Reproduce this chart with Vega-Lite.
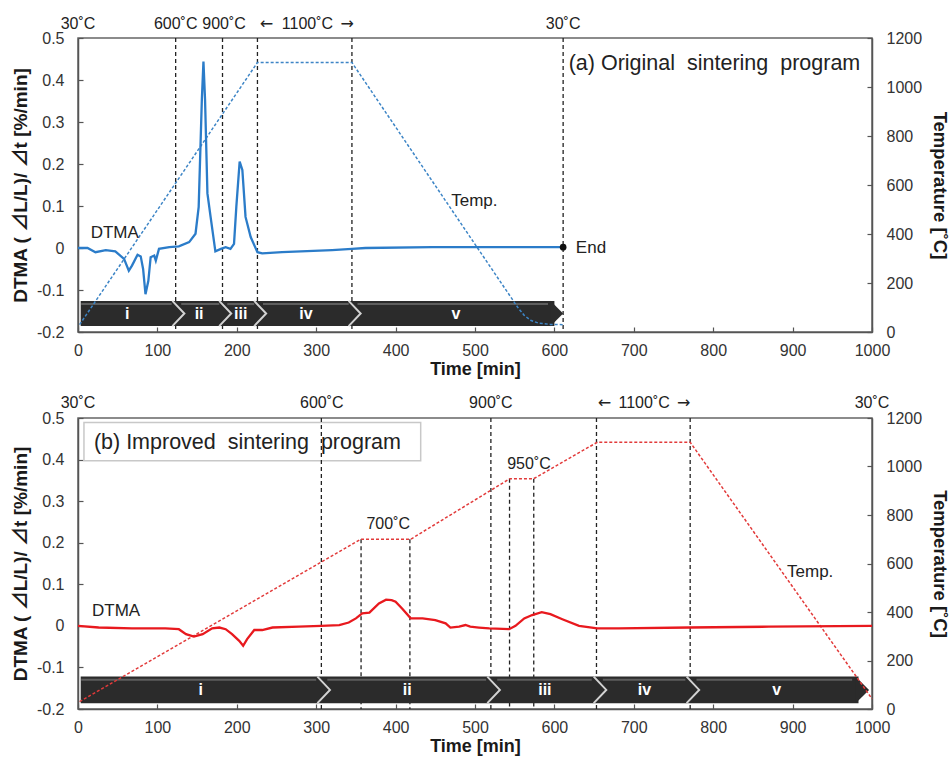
{
  "$schema": "https://vega.github.io/schema/vega-lite/v6.json",
  "padding": {"left": 10, "top": 15, "right": 3, "bottom": 1},
  "bounds": "flush",
  "spacing": 86,
  "config": {
    "font": "Liberation Sans",
    "view": {"stroke": "#666", "strokeWidth": 1.5},
    "axis": {"grid": false, "labelFont": "Liberation Sans", "labelFontSize": 16, "labelColor": "#333", "titleFont": "Liberation Sans, Noto Sans CJK JP", "titleFontSize": 18, "titleFontWeight": "bold", "titleColor": "#1a1a1a", "tickColor": "#555", "domainColor": "#555", "domainWidth": 1.5, "tickWidth": 1.2, "labelFlush": false},
    "text": {"font": "Liberation Sans"}
  },
  "datasets": {
    "dtmaA": [
      {"t":0,"v":0},{"t":12,"v":0},{"t":22,"v":-0.01},{"t":35,"v":-0.005},{"t":47,"v":-0.008},{"t":58,"v":-0.026},{"t":64,"v":-0.054},{"t":68,"v":-0.042},{"t":75,"v":-0.016},{"t":79,"v":-0.02},{"t":82,"v":-0.05},{"t":85,"v":-0.11},{"t":88.6,"v":-0.078},{"t":91.5,"v":-0.022},{"t":96,"v":-0.018},{"t":98,"v":-0.03},{"t":102,"v":-0.002},{"t":115,"v":0.002},{"t":127,"v":0.004},{"t":140,"v":0.014},{"t":148,"v":0.034},{"t":152,"v":0.098},{"t":156,"v":0.354},{"t":158,"v":0.444},{"t":160,"v":0.354},{"t":163,"v":0.13},{"t":167,"v":0.074},{"t":173,"v":-0.008},{"t":180,"v":-0.002},{"t":186,"v":0.002},{"t":192,"v":-0.002},{"t":196.5,"v":0.01},{"t":199.4,"v":0.098},{"t":203.6,"v":0.206},{"t":207,"v":0.186},{"t":211,"v":0.074},{"t":217.5,"v":0.026},{"t":226,"v":-0.01},{"t":232,"v":-0.013},{"t":257,"v":-0.01},{"t":320,"v":-0.005},{"t":345,"v":-0.002},{"t":362,"v":0},{"t":446,"v":0.002},{"t":611,"v":0.002}
    ],
    "tempA": [
      {"t":2,"T":30},{"t":226,"T":1100},{"t":345,"T":1100},{"t":555,"T":95},{"t":562,"T":68},{"t":570,"T":48},{"t":580,"T":36},{"t":595,"T":31},{"t":611,"T":30}
    ],
    "dtmaB": [
      {"t":0,"v":0},{"t":26,"v":-0.004},{"t":68,"v":-0.006},{"t":110,"v":-0.006},{"t":127,"v":-0.008},{"t":136,"v":-0.02},{"t":146,"v":-0.026},{"t":157,"v":-0.02},{"t":169,"v":-0.006},{"t":178,"v":-0.004},{"t":186,"v":-0.008},{"t":194,"v":-0.02},{"t":203,"v":-0.036},{"t":208,"v":-0.048},{"t":213,"v":-0.032},{"t":222,"v":-0.01},{"t":232,"v":-0.01},{"t":245,"v":-0.004},{"t":278,"v":-0.002},{"t":306,"v":0},{"t":329,"v":0.002},{"t":341,"v":0.008},{"t":350,"v":0.018},{"t":358,"v":0.03},{"t":367,"v":0.032},{"t":379,"v":0.054},{"t":388,"v":0.063},{"t":395,"v":0.062},{"t":400,"v":0.058},{"t":409,"v":0.04},{"t":419,"v":0.018},{"t":434,"v":0.018},{"t":450,"v":0.014},{"t":463,"v":0.006},{"t":469,"v":-0.004},{"t":480,"v":-0.002},{"t":488,"v":0.002},{"t":494,"v":-0.002},{"t":505,"v":-0.004},{"t":518,"v":-0.006},{"t":543,"v":-0.008},{"t":551,"v":0},{"t":562,"v":0.018},{"t":572,"v":0.026},{"t":584,"v":0.033},{"t":595,"v":0.028},{"t":610,"v":0.016},{"t":631,"v":0},{"t":654,"v":-0.006},{"t":681,"v":-0.006},{"t":770,"v":-0.004},{"t":870,"v":-0.002},{"t":1000,"v":0}
    ],
    "tempB": [
      {"t":2,"T":30},{"t":356,"T":700},{"t":419,"T":700},{"t":544,"T":950},{"t":574,"T":950},{"t":654,"T":1100},{"t":771,"T":1100},{"t":1000,"T":42}
    ]
  },
  "vconcat": [
    {
      "width": 794,
      "height": 294,
      "resolve": {"scale": {"y": "independent"}},
      "layer": [
        {
          "data": {"values": [{"t":123},{"t":182},{"t":226},{"t":345},{"t":611}]},
          "mark": {"type": "rule", "color": "#222", "strokeWidth": 1.3, "strokeDash": [4,3]},
          "encoding": {
            "x": {"field": "t", "type": "quantitative", "scale": {"domain": [0,1000], "nice": false}, "axis": {"title": "Time [min]", "values": [0,100,200,300,400,500,600,700,800,900,1000], "format": "d", "tickSize": -5, "labelPadding": 15, "titlePadding": 2}},
            "y": {"datum": 0.5, "type": "quantitative", "scale": {"domain": [-0.2,0.5], "nice": false, "zero": false}, "axis": null},
            "y2": {"datum": -0.2}
          }
        },
        {
          "data": {"values": [{"t":3.4,"t2":600}]},
          "mark": {"type": "rect", "color": "#2b2b2b"},
          "encoding": {
            "x": {"field": "t", "type": "quantitative", "scale": {"domain": [0,1000], "nice": false}, "axis": {"title": "Time [min]", "values": [0,100,200,300,400,500,600,700,800,900,1000], "format": "d", "tickSize": -5, "labelPadding": 15, "titlePadding": 2}},
            "x2": {"field": "t2"},
            "y": {"datum": -0.186, "type": "quantitative", "scale": {"domain": [-0.2,0.5], "nice": false, "zero": false}, "axis": null},
            "y2": {"datum": -0.126}
          }
        },
        {
          "data": {"values": [{"t":4,"t2":118},{"t":130,"t2":178},{"t":188,"t2":222},{"t":233,"t2":341},{"t":352,"t2":592}]},
          "mark": {"type": "rect", "color": "#5e5e5e"},
          "encoding": {
            "x": {"field": "t", "type": "quantitative", "scale": {"domain": [0,1000], "nice": false}, "axis": {"title": "Time [min]", "values": [0,100,200,300,400,500,600,700,800,900,1000], "format": "d", "tickSize": -5, "labelPadding": 15, "titlePadding": 2}},
            "x2": {"field": "t2"},
            "y": {"datum": -0.131, "type": "quantitative", "scale": {"domain": [-0.2,0.5], "nice": false, "zero": false}, "axis": null},
            "y2": {"datum": -0.136}
          }
        },
        {
          "data": {"values": [{"t":126},{"t":185},{"t":229},{"t":348}]},
          "mark": {"type": "point", "shape": "M -0.45 -1 L 0.5 0 L -0.45 1", "filled": false, "stroke": "#d2d2d2", "strokeWidth": 2, "size": 640, "opacity": 1},
          "encoding": {
            "x": {"field": "t", "type": "quantitative", "scale": {"domain": [0,1000], "nice": false}, "axis": {"title": "Time [min]", "values": [0,100,200,300,400,500,600,700,800,900,1000], "format": "d", "tickSize": -5, "labelPadding": 15, "titlePadding": 2}},
            "y": {"datum": -0.156, "type": "quantitative", "scale": {"domain": [-0.2,0.5], "nice": false, "zero": false}, "axis": null}
          }
        },
        {
          "data": {"values": [{"t":603}]},
          "mark": {"type": "point", "shape": "M -0.5 -1 L 0.5 0 L -0.5 1 Z", "filled": true, "color": "#2b2b2b", "size": 640, "opacity": 1},
          "encoding": {
            "x": {"field": "t", "type": "quantitative", "scale": {"domain": [0,1000], "nice": false}, "axis": {"title": "Time [min]", "values": [0,100,200,300,400,500,600,700,800,900,1000], "format": "d", "tickSize": -5, "labelPadding": 15, "titlePadding": 2}},
            "y": {"datum": -0.156, "type": "quantitative", "scale": {"domain": [-0.2,0.5], "nice": false, "zero": false}, "axis": null}
          }
        },
        {
          "data": {"values": [{"t":62,"lab":"i"},{"t":152.5,"lab":"ii"},{"t":205,"lab":"iii"},{"t":287,"lab":"iv"},{"t":476,"lab":"v"}]},
          "mark": {"type": "text", "color": "white", "fontSize": 16, "fontWeight": "bold", "baseline": "middle"},
          "encoding": {
            "x": {"field": "t", "type": "quantitative", "scale": {"domain": [0,1000], "nice": false}, "axis": {"title": "Time [min]", "values": [0,100,200,300,400,500,600,700,800,900,1000], "format": "d", "tickSize": -5, "labelPadding": 15, "titlePadding": 2}},
            "y": {"datum": -0.157, "type": "quantitative", "scale": {"domain": [-0.2,0.5], "nice": false, "zero": false}, "axis": null},
            "text": {"field": "lab"}
          }
        },
        {
          "data": {"name": "tempA"},
          "mark": {"type": "line", "color": "#3d85c6", "strokeWidth": 1.5, "strokeDash": [3,2]},
          "encoding": {
            "x": {"field": "t", "type": "quantitative", "scale": {"domain": [0,1000], "nice": false}, "axis": {"title": "Time [min]", "values": [0,100,200,300,400,500,600,700,800,900,1000], "format": "d", "tickSize": -5, "labelPadding": 15, "titlePadding": 2}},
            "y": {"field": "T", "type": "quantitative", "scale": {"domain": [0,1200], "nice": false}, "axis": {"orient": "right", "title": "Temperature [˚C]", "titleFontSize": 18.5, "values": [0,200,400,600,800,1000,1200], "format": "d", "tickSize": -5, "labelPadding": 19, "titlePadding": 8}}
          }
        },
        {
          "data": {"name": "dtmaA"},
          "mark": {"type": "line", "color": "#2b7cc9", "strokeWidth": 2.3},
          "encoding": {
            "x": {"field": "t", "type": "quantitative", "scale": {"domain": [0,1000], "nice": false}, "axis": {"title": "Time [min]", "values": [0,100,200,300,400,500,600,700,800,900,1000], "format": "d", "tickSize": -5, "labelPadding": 15, "titlePadding": 2}},
            "y": {"field": "v", "type": "quantitative", "scale": {"domain": [-0.2,0.5], "nice": false, "zero": false}, "axis": {"orient": "left", "title": "DTMA ( ⊿L/L)/ ⊿t [%/min]", "titleFontSize": 19, "values": [-0.2,-0.1,0,0.1,0.2,0.3,0.4,0.5], "labelExpr": "datum.value == 0 ? '0' : '' + round(datum.value*10)/10", "tickSize": -5, "labelPadding": 19, "titlePadding": 6}}
          }
        },
        {
          "data": {"values": [{"t":611,"v":0.002}]},
          "mark": {"type": "point", "filled": true, "color": "#111", "size": 45, "opacity": 1},
          "encoding": {
            "x": {"field": "t", "type": "quantitative", "scale": {"domain": [0,1000], "nice": false}, "axis": {"title": "Time [min]", "values": [0,100,200,300,400,500,600,700,800,900,1000], "format": "d", "tickSize": -5, "labelPadding": 15, "titlePadding": 2}},
            "y": {"field": "v", "type": "quantitative", "scale": {"domain": [-0.2,0.5], "nice": false, "zero": false}, "axis": null}
          }
        },
        {
          "data": {"values": [{"t":627,"lab":"End"}]},
          "mark": {"type": "text", "color": "#222", "fontSize": 17, "align": "left", "baseline": "middle"},
          "encoding": {
            "x": {"field": "t", "type": "quantitative", "scale": {"domain": [0,1000], "nice": false}, "axis": {"title": "Time [min]", "values": [0,100,200,300,400,500,600,700,800,900,1000], "format": "d", "tickSize": -5, "labelPadding": 15, "titlePadding": 2}},
            "y": {"datum": 0.0, "type": "quantitative", "scale": {"domain": [-0.2,0.5], "nice": false, "zero": false}, "axis": null},
            "text": {"field": "lab"}
          }
        },
        {
          "data": {"values": [{"t":16,"lab":"DTMA"}]},
          "mark": {"type": "text", "color": "#222", "fontSize": 17, "align": "left", "baseline": "middle"},
          "encoding": {
            "x": {"field": "t", "type": "quantitative", "scale": {"domain": [0,1000], "nice": false}, "axis": {"title": "Time [min]", "values": [0,100,200,300,400,500,600,700,800,900,1000], "format": "d", "tickSize": -5, "labelPadding": 15, "titlePadding": 2}},
            "y": {"datum": 0.036, "type": "quantitative", "scale": {"domain": [-0.2,0.5], "nice": false, "zero": false}, "axis": null},
            "text": {"field": "lab"}
          }
        },
        {
          "data": {"values": [{"t":470,"lab":"Temp."}]},
          "mark": {"type": "text", "color": "#222", "fontSize": 17, "align": "left", "baseline": "middle"},
          "encoding": {
            "x": {"field": "t", "type": "quantitative", "scale": {"domain": [0,1000], "nice": false}, "axis": {"title": "Time [min]", "values": [0,100,200,300,400,500,600,700,800,900,1000], "format": "d", "tickSize": -5, "labelPadding": 15, "titlePadding": 2}},
            "y": {"datum": 535, "type": "quantitative", "scale": {"domain": [0,1200], "nice": false}, "axis": null},
            "text": {"field": "lab"}
          }
        },
        {
          "data": {"values": [{"t":618,"lab":"(a) Original\u00a0 sintering\u00a0 program"}]},
          "mark": {"type": "text", "color": "#222", "fontSize": 21.5, "align": "left", "baseline": "middle"},
          "encoding": {
            "x": {"field": "t", "type": "quantitative", "scale": {"domain": [0,1000], "nice": false}, "axis": {"title": "Time [min]", "values": [0,100,200,300,400,500,600,700,800,900,1000], "format": "d", "tickSize": -5, "labelPadding": 15, "titlePadding": 2}},
            "y": {"datum": 0.438, "type": "quantitative", "scale": {"domain": [-0.2,0.5], "nice": false, "zero": false}, "axis": null},
            "text": {"field": "lab"}
          }
        },
        {
          "data": {"values": [{"t":0,"lab":"30˚C"},{"t":123,"lab":"600˚C"},{"t":184,"lab":"900˚C"},{"t":289,"lab":"1100˚C"},{"t":611,"lab":"30˚C"}]},
          "mark": {"type": "text", "color": "#222", "fontSize": 16, "align": "center", "baseline": "middle"},
          "encoding": {
            "x": {"field": "t", "type": "quantitative", "scale": {"domain": [0,1000], "nice": false}, "axis": {"title": "Time [min]", "values": [0,100,200,300,400,500,600,700,800,900,1000], "format": "d", "tickSize": -5, "labelPadding": 15, "titlePadding": 2}},
            "y": {"datum": 0.533, "type": "quantitative", "scale": {"domain": [-0.2,0.5], "nice": false, "zero": false}, "axis": null},
            "text": {"field": "lab"}
          }
        },
        {
          "data": {"values": [{"t":237.5,"lab":"←"},{"t":339,"lab":"→"}]},
          "mark": {"type": "text", "color": "#222", "fontSize": 16, "font": "DejaVu Sans", "align": "center", "baseline": "middle"},
          "encoding": {
            "x": {"field": "t", "type": "quantitative", "scale": {"domain": [0,1000], "nice": false}, "axis": {"title": "Time [min]", "values": [0,100,200,300,400,500,600,700,800,900,1000], "format": "d", "tickSize": -5, "labelPadding": 15, "titlePadding": 2}},
            "y": {"datum": 0.533, "type": "quantitative", "scale": {"domain": [-0.2,0.5], "nice": false, "zero": false}, "axis": null},
            "text": {"field": "lab"}
          }
        }
      ]
    },
    {
      "width": 794,
      "height": 291,
      "resolve": {"scale": {"y": "independent"}},
      "layer": [
        {
          "data": {"values": [{"t":7.5,"t2":431.6}]},
          "mark": {"type": "rect", "fill": "white", "stroke": "#c8c8c8", "strokeWidth": 1.5},
          "encoding": {
            "x": {"field": "t", "type": "quantitative", "scale": {"domain": [0,1000], "nice": false}, "axis": {"title": "Time [min]", "values": [0,100,200,300,400,500,600,700,800,900,1000], "format": "d", "tickSize": -5, "labelPadding": 15, "titlePadding": 2}},
            "x2": {"field": "t2"},
            "y": {"datum": 0.489, "type": "quantitative", "scale": {"domain": [-0.2,0.5], "nice": false, "zero": false}, "axis": null},
            "y2": {"datum": 0.397}
          }
        },
        {
          "data": {"values": [{"t":306.5},{"t":520},{"t":653},{"t":771}]},
          "mark": {"type": "rule", "color": "#222", "strokeWidth": 1.3, "strokeDash": [4,3]},
          "encoding": {
            "x": {"field": "t", "type": "quantitative", "scale": {"domain": [0,1000], "nice": false}, "axis": {"title": "Time [min]", "values": [0,100,200,300,400,500,600,700,800,900,1000], "format": "d", "tickSize": -5, "labelPadding": 15, "titlePadding": 2}},
            "y": {"datum": 0.5, "type": "quantitative", "scale": {"domain": [-0.2,0.5], "nice": false, "zero": false}, "axis": null},
            "y2": {"datum": -0.2}
          }
        },
        {
          "data": {"values": [{"t":356.5,"T":700},{"t":418,"T":700},{"t":543.5,"T":950},{"t":574,"T":950}]},
          "mark": {"type": "rule", "color": "#222", "strokeWidth": 1.3, "strokeDash": [4,3]},
          "encoding": {
            "x": {"field": "t", "type": "quantitative", "scale": {"domain": [0,1000], "nice": false}, "axis": {"title": "Time [min]", "values": [0,100,200,300,400,500,600,700,800,900,1000], "format": "d", "tickSize": -5, "labelPadding": 15, "titlePadding": 2}},
            "y": {"field": "T", "type": "quantitative", "scale": {"domain": [0,1200], "nice": false}, "axis": null},
            "y2": {"datum": 0}
          }
        },
        {
          "data": {"values": [{"t":3.4,"t2":983}]},
          "mark": {"type": "rect", "color": "#2b2b2b"},
          "encoding": {
            "x": {"field": "t", "type": "quantitative", "scale": {"domain": [0,1000], "nice": false}, "axis": {"title": "Time [min]", "values": [0,100,200,300,400,500,600,700,800,900,1000], "format": "d", "tickSize": -5, "labelPadding": 15, "titlePadding": 2}},
            "x2": {"field": "t2"},
            "y": {"datum": -0.186, "type": "quantitative", "scale": {"domain": [-0.2,0.5], "nice": false, "zero": false}, "axis": null},
            "y2": {"datum": -0.122}
          }
        },
        {
          "data": {"values": [{"t":4,"t2":300},{"t":314,"t2":514},{"t":528,"t2":647},{"t":661,"t2":765},{"t":779,"t2":975}]},
          "mark": {"type": "rect", "color": "#5e5e5e"},
          "encoding": {
            "x": {"field": "t", "type": "quantitative", "scale": {"domain": [0,1000], "nice": false}, "axis": {"title": "Time [min]", "values": [0,100,200,300,400,500,600,700,800,900,1000], "format": "d", "tickSize": -5, "labelPadding": 15, "titlePadding": 2}},
            "x2": {"field": "t2"},
            "y": {"datum": -0.127, "type": "quantitative", "scale": {"domain": [-0.2,0.5], "nice": false, "zero": false}, "axis": null},
            "y2": {"datum": -0.132}
          }
        },
        {
          "data": {"values": [{"t":309},{"t":523},{"t":657},{"t":774}]},
          "mark": {"type": "point", "shape": "M -0.45 -1 L 0.5 0 L -0.45 1", "filled": false, "stroke": "#d2d2d2", "strokeWidth": 2, "size": 700, "opacity": 1},
          "encoding": {
            "x": {"field": "t", "type": "quantitative", "scale": {"domain": [0,1000], "nice": false}, "axis": {"title": "Time [min]", "values": [0,100,200,300,400,500,600,700,800,900,1000], "format": "d", "tickSize": -5, "labelPadding": 15, "titlePadding": 2}},
            "y": {"datum": -0.154, "type": "quantitative", "scale": {"domain": [-0.2,0.5], "nice": false, "zero": false}, "axis": null}
          }
        },
        {
          "data": {"values": [{"t":988}]},
          "mark": {"type": "point", "shape": "M -0.5 -1 L 0.5 0 L -0.5 1 Z", "filled": true, "color": "#2b2b2b", "size": 700, "opacity": 1},
          "encoding": {
            "x": {"field": "t", "type": "quantitative", "scale": {"domain": [0,1000], "nice": false}, "axis": {"title": "Time [min]", "values": [0,100,200,300,400,500,600,700,800,900,1000], "format": "d", "tickSize": -5, "labelPadding": 15, "titlePadding": 2}},
            "y": {"datum": -0.154, "type": "quantitative", "scale": {"domain": [-0.2,0.5], "nice": false, "zero": false}, "axis": null}
          }
        },
        {
          "data": {"values": [{"t":154.5,"lab":"i"},{"t":414.7,"lab":"ii"},{"t":588,"lab":"iii"},{"t":713.5,"lab":"iv"},{"t":880,"lab":"v"}]},
          "mark": {"type": "text", "color": "white", "fontSize": 16, "fontWeight": "bold", "baseline": "middle"},
          "encoding": {
            "x": {"field": "t", "type": "quantitative", "scale": {"domain": [0,1000], "nice": false}, "axis": {"title": "Time [min]", "values": [0,100,200,300,400,500,600,700,800,900,1000], "format": "d", "tickSize": -5, "labelPadding": 15, "titlePadding": 2}},
            "y": {"datum": -0.155, "type": "quantitative", "scale": {"domain": [-0.2,0.5], "nice": false, "zero": false}, "axis": null},
            "text": {"field": "lab"}
          }
        },
        {
          "data": {"name": "tempB"},
          "mark": {"type": "line", "color": "#e23a3a", "strokeWidth": 1.5, "strokeDash": [3,2]},
          "encoding": {
            "x": {"field": "t", "type": "quantitative", "scale": {"domain": [0,1000], "nice": false}, "axis": {"title": "Time [min]", "values": [0,100,200,300,400,500,600,700,800,900,1000], "format": "d", "tickSize": -5, "labelPadding": 15, "titlePadding": 2}},
            "y": {"field": "T", "type": "quantitative", "scale": {"domain": [0,1200], "nice": false}, "axis": {"orient": "right", "title": "Temperature [˚C]", "titleFontSize": 18.5, "values": [0,200,400,600,800,1000,1200], "format": "d", "tickSize": -5, "labelPadding": 19, "titlePadding": 8}}
          }
        },
        {
          "data": {"name": "dtmaB"},
          "mark": {"type": "line", "color": "#e8191e", "strokeWidth": 2.3},
          "encoding": {
            "x": {"field": "t", "type": "quantitative", "scale": {"domain": [0,1000], "nice": false}, "axis": {"title": "Time [min]", "values": [0,100,200,300,400,500,600,700,800,900,1000], "format": "d", "tickSize": -5, "labelPadding": 15, "titlePadding": 2}},
            "y": {"field": "v", "type": "quantitative", "scale": {"domain": [-0.2,0.5], "nice": false, "zero": false}, "axis": {"orient": "left", "title": "DTMA ( ⊿L/L)/ ⊿t [%/min]", "titleFontSize": 19, "values": [-0.2,-0.1,0,0.1,0.2,0.3,0.4,0.5], "labelExpr": "datum.value == 0 ? '0' : '' + round(datum.value*10)/10", "tickSize": -5, "labelPadding": 19, "titlePadding": 6}}
          }
        },
        {
          "data": {"values": [{"t":17.6,"lab":"DTMA"}]},
          "mark": {"type": "text", "color": "#222", "fontSize": 17, "align": "left", "baseline": "middle"},
          "encoding": {
            "x": {"field": "t", "type": "quantitative", "scale": {"domain": [0,1000], "nice": false}, "axis": {"title": "Time [min]", "values": [0,100,200,300,400,500,600,700,800,900,1000], "format": "d", "tickSize": -5, "labelPadding": 15, "titlePadding": 2}},
            "y": {"datum": 0.036, "type": "quantitative", "scale": {"domain": [-0.2,0.5], "nice": false, "zero": false}, "axis": null},
            "text": {"field": "lab"}
          }
        },
        {
          "data": {"values": [{"t":893,"lab":"Temp."}]},
          "mark": {"type": "text", "color": "#222", "fontSize": 17, "align": "left", "baseline": "middle"},
          "encoding": {
            "x": {"field": "t", "type": "quantitative", "scale": {"domain": [0,1000], "nice": false}, "axis": {"title": "Time [min]", "values": [0,100,200,300,400,500,600,700,800,900,1000], "format": "d", "tickSize": -5, "labelPadding": 15, "titlePadding": 2}},
            "y": {"datum": 566, "type": "quantitative", "scale": {"domain": [0,1200], "nice": false}, "axis": null},
            "text": {"field": "lab"}
          }
        },
        {
          "data": {"values": [{"t":20,"lab":"(b) Improved\u00a0 sintering\u00a0 program"}]},
          "mark": {"type": "text", "color": "#222", "fontSize": 21.5, "align": "left", "baseline": "middle"},
          "encoding": {
            "x": {"field": "t", "type": "quantitative", "scale": {"domain": [0,1000], "nice": false}, "axis": {"title": "Time [min]", "values": [0,100,200,300,400,500,600,700,800,900,1000], "format": "d", "tickSize": -5, "labelPadding": 15, "titlePadding": 2}},
            "y": {"datum": 0.44, "type": "quantitative", "scale": {"domain": [-0.2,0.5], "nice": false, "zero": false}, "axis": null},
            "text": {"field": "lab"}
          }
        },
        {
          "data": {"values": [{"t":0,"lab":"30˚C"},{"t":307,"lab":"600˚C"},{"t":520,"lab":"900˚C"},{"t":713,"lab":"1100˚C"},{"t":1000,"lab":"30˚C"}]},
          "mark": {"type": "text", "color": "#222", "fontSize": 16, "align": "center", "baseline": "middle"},
          "encoding": {
            "x": {"field": "t", "type": "quantitative", "scale": {"domain": [0,1000], "nice": false}, "axis": {"title": "Time [min]", "values": [0,100,200,300,400,500,600,700,800,900,1000], "format": "d", "tickSize": -5, "labelPadding": 15, "titlePadding": 2}},
            "y": {"datum": 0.537, "type": "quantitative", "scale": {"domain": [-0.2,0.5], "nice": false, "zero": false}, "axis": null},
            "text": {"field": "lab"}
          }
        },
        {
          "data": {"values": [{"t":663,"lab":"←"},{"t":763,"lab":"→"}]},
          "mark": {"type": "text", "color": "#222", "fontSize": 16, "font": "DejaVu Sans", "align": "center", "baseline": "middle"},
          "encoding": {
            "x": {"field": "t", "type": "quantitative", "scale": {"domain": [0,1000], "nice": false}, "axis": {"title": "Time [min]", "values": [0,100,200,300,400,500,600,700,800,900,1000], "format": "d", "tickSize": -5, "labelPadding": 15, "titlePadding": 2}},
            "y": {"datum": 0.537, "type": "quantitative", "scale": {"domain": [-0.2,0.5], "nice": false, "zero": false}, "axis": null},
            "text": {"field": "lab"}
          }
        },
        {
          "data": {"values": [{"t":390.7,"lab":"700˚C"}]},
          "mark": {"type": "text", "color": "#222", "fontSize": 16, "align": "center", "baseline": "middle"},
          "encoding": {
            "x": {"field": "t", "type": "quantitative", "scale": {"domain": [0,1000], "nice": false}, "axis": {"title": "Time [min]", "values": [0,100,200,300,400,500,600,700,800,900,1000], "format": "d", "tickSize": -5, "labelPadding": 15, "titlePadding": 2}},
            "y": {"datum": 0.245, "type": "quantitative", "scale": {"domain": [-0.2,0.5], "nice": false, "zero": false}, "axis": null},
            "text": {"field": "lab"}
          }
        },
        {
          "data": {"values": [{"t":568,"lab":"950˚C"}]},
          "mark": {"type": "text", "color": "#222", "fontSize": 16, "align": "center", "baseline": "middle"},
          "encoding": {
            "x": {"field": "t", "type": "quantitative", "scale": {"domain": [0,1000], "nice": false}, "axis": {"title": "Time [min]", "values": [0,100,200,300,400,500,600,700,800,900,1000], "format": "d", "tickSize": -5, "labelPadding": 15, "titlePadding": 2}},
            "y": {"datum": 0.39, "type": "quantitative", "scale": {"domain": [-0.2,0.5], "nice": false, "zero": false}, "axis": null},
            "text": {"field": "lab"}
          }
        }
      ]
    }
  ]
}
